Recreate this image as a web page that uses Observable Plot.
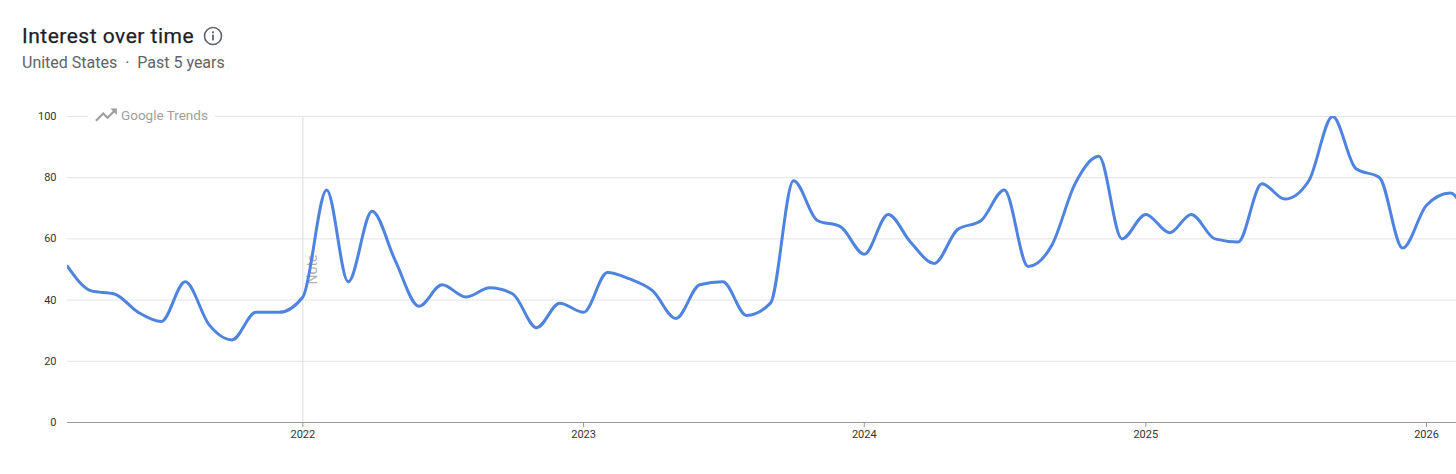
<!DOCTYPE html>
<html>
<head>
<meta charset="utf-8">
<script src="https://cdn.jsdelivr.net/npm/d3@7"></script>
<script src="https://cdn.jsdelivr.net/npm/@observablehq/plot@0.6"></script>
<style>
  html, body { margin: 0; padding: 0; background: #fff; }
  body { position: relative; width: 1456px; height: 474px; overflow: hidden; font-family: Roboto, "Noto Sans", sans-serif; }
  #title { position: absolute; left: 22px; top: 24px; font-size: 21px; line-height: 24px; color: #202124; font-weight: 400; letter-spacing: 0.5px; white-space: nowrap; -webkit-text-stroke: 0.25px #202124; }
  #subtitle { position: absolute; left: 22px; top: 54px; font-size: 16px; line-height: 18px; color: #5f6368; white-space: nowrap; }
  #info { position: absolute; left: 203px; top: 26px; width: 20px; height: 20px; }
  #chart { position: absolute; left: 0; top: 90px; }
  #watermark { position: absolute; left: 88px; top: 105px; height: 20px; padding: 0 7px 0 5px; background: #fff; display: flex; align-items: center; gap: 2px; color: #9e9e9e; font-size: 13.5px; white-space: nowrap; }
  #watermark svg { width: 26px; height: 26px; }
</style>
</head>
<body>
<div id="title">Interest over time</div>
<svg id="info" viewBox="0 0 20 20">
  <circle cx="10" cy="10" r="8.5" fill="none" stroke="#5f6368" stroke-width="1.6"></circle>
  <rect x="9.1" y="8.6" width="1.8" height="5.8" fill="#5f6368"></rect>
  <circle cx="10" cy="6.3" r="1.1" fill="#5f6368"></circle>
</svg>
<div id="subtitle">United States &nbsp;·&nbsp; Past 5 years</div>
<div id="chart"></div>
<div id="watermark"><svg viewBox="0 0 24 24"><path fill="#9e9e9e" d="M16 6l2.29 2.29-4.88 4.88-4-4L2 16.59 3.41 18l6-6 4 4 6.3-6.29L22 12V6z"/></svg><span>Google Trends</span></div>
<script>
// Monthly data points (first of each month)
const months = [
  "2021-03","2021-04","2021-05","2021-06","2021-07","2021-08","2021-09","2021-10","2021-11","2021-12",
  "2022-01","2022-02","2022-03","2022-04","2022-05","2022-06","2022-07","2022-08","2022-09","2022-10","2022-11","2022-12",
  "2023-01","2023-02","2023-03","2023-04","2023-05","2023-06","2023-07","2023-08","2023-09","2023-10","2023-11","2023-12",
  "2024-01","2024-02","2024-03","2024-04","2024-05","2024-06","2024-07","2024-08","2024-09","2024-10","2024-11","2024-12",
  "2025-01","2025-02","2025-03","2025-04","2025-05","2025-06","2025-07","2025-08","2025-09","2025-10","2025-11","2025-12",
  "2026-01","2026-02","2026-03"
];
const interest = [
  51, 43, 42, 36, 33, 46, 32, 27, 36, 36,
  41, 76, 46, 69, 53, 38, 45, 41, 44, 42, 31, 39,
  36, 49, 47, 43, 34, 45, 46, 35, 39, 79, 66, 64,
  55, 68, 59, 52, 63, 66, 76, 51, 58, 78, 87, 60,
  68, 62, 68, 60, 59, 78, 73, 79, 100, 83, 80, 57,
  71, 75, 62
];
const yTicks = [0, 20, 40, 60, 80, 100];
const xTickLabels = ["2022", "2023", "2024", "2025", "2026"];
const xStart = "2021-03-01";
const xEnd = "2026-02-09";
const notes = [{date: "2022-01-01", label: "Note", value: 50}];

const parse = d3.utcParse("%Y-%m");
const data = months.map((m, i) => ({date: parse(m), value: interest[i]}));
const xTicks = xTickLabels.map(y => d3.utcParse("%Y")(y));
const noteData = notes.map(n => ({date: d3.utcParse("%Y-%m-%d")(n.date), label: n.label, value: n.value}));

const chart = Plot.plot({
  width: 1456,
  height: 384,
  marginTop: 26,
  marginBottom: 52,
  marginLeft: 67,
  marginRight: 0,
  style: {fontFamily: "Roboto, 'Noto Sans', sans-serif", background: "transparent", overflow: "visible"},
  x: {type: "utc", domain: [d3.utcParse("%Y-%m-%d")(xStart), d3.utcParse("%Y-%m-%d")(xEnd)]},
  y: {domain: [0, 100]},
  marks: [
    Plot.ruleY(yTicks.filter(d => d > 0), {stroke: "#e3e3e3", strokeWidth: 1}),
    Plot.ruleX(noteData, {x: "date", y1: 0, y2: 100, stroke: "#dcdcdc", strokeWidth: 1}),
    Plot.text(noteData, {x: "date", y: "value", text: "label", rotate: -90, dx: 10, fill: "#b0b0b0", fontSize: 14}),
    Plot.axisY({ticks: yTicks, tickSize: 0, tickPadding: 11, fontSize: 11, color: "#333", label: null}),
    Plot.axisX({ticks: xTicks, tickFormat: d3.utcFormat("%Y"), tickSize: 5, tickPadding: 3, fontSize: 11, color: "#333", stroke: "#999", label: null}),
    Plot.ruleY([0], {stroke: "#9a9a9a", strokeWidth: 1}),
    Plot.line(data, {x: "date", y: "value", curve: "monotone-x", stroke: "#4f83e0", strokeWidth: 3, clip: true})
  ]
});
document.getElementById("chart").appendChild(chart);
</script>
</body>
</html>
